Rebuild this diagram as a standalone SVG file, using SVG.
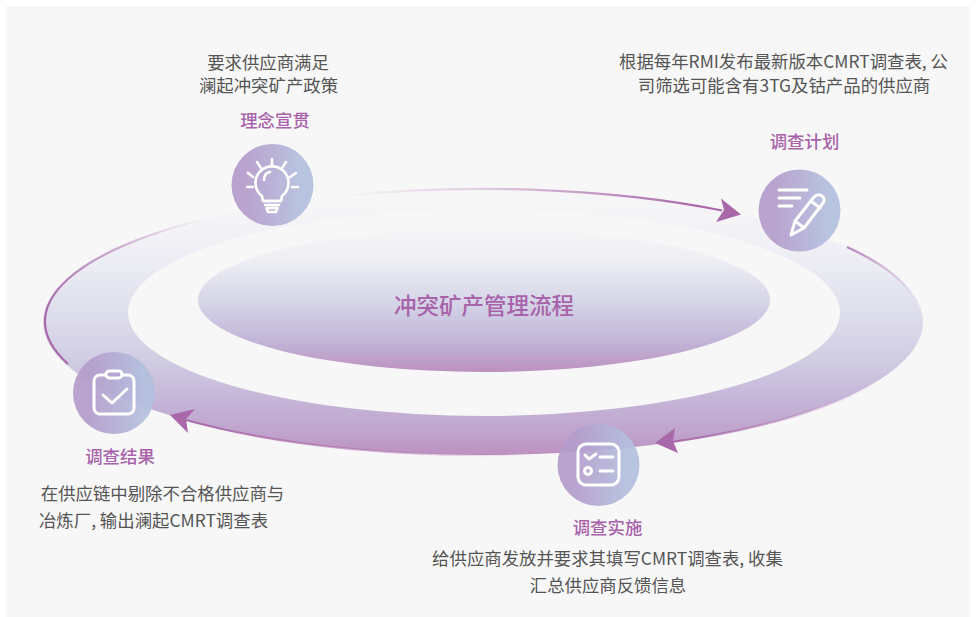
<svg xmlns="http://www.w3.org/2000/svg" width="976" height="617" viewBox="0 0 976 617">
<defs>
<linearGradient id="ring" x1="0" y1="0" x2="0" y2="1"><stop offset="0" stop-color="#f7f7f8"/><stop offset="0.14" stop-color="#f3f3f7"/><stop offset="0.3" stop-color="#ebebf3"/><stop offset="0.45" stop-color="#dfdfed"/><stop offset="0.64" stop-color="#d0cde3"/><stop offset="0.79" stop-color="#c5b5d8"/><stop offset="0.92" stop-color="#bfa3cc"/><stop offset="1" stop-color="#bd90c0"/></linearGradient>
<linearGradient id="core" x1="0" y1="0" x2="0" y2="1"><stop offset="0" stop-color="#f7f7f8"/><stop offset="0.22" stop-color="#eeeef4"/><stop offset="0.5" stop-color="#d6d6e8"/><stop offset="0.78" stop-color="#c2b6d8"/><stop offset="1" stop-color="#bc90c0"/></linearGradient>
<linearGradient id="disc" x1="0" y1="0" x2="1" y2="0"><stop offset="0.2" stop-color="#b49ccb"/><stop offset="0.85" stop-color="#b3bfde"/></linearGradient>
<linearGradient id="g1" gradientUnits="userSpaceOnUse" x1="340" y1="0" x2="700" y2="0"><stop offset="0" stop-color="#a868aa" stop-opacity="0"/><stop offset=".4" stop-color="#a868aa" stop-opacity=".3"/><stop offset="1" stop-color="#a868aa"/></linearGradient>
<linearGradient id="g2" gradientUnits="userSpaceOnUse" x1="847" y1="248" x2="915" y2="300"><stop offset="0" stop-color="#a868aa" stop-opacity=".8"/><stop offset="1" stop-color="#a868aa" stop-opacity="0"/></linearGradient>
<linearGradient id="g3" gradientUnits="userSpaceOnUse" x1="670" y1="0" x2="880" y2="0"><stop offset="0" stop-color="#a868aa"/><stop offset="1" stop-color="#a868aa" stop-opacity="0"/></linearGradient>
<linearGradient id="g4" gradientUnits="userSpaceOnUse" x1="180" y1="0" x2="540" y2="0"><stop offset="0" stop-color="#a868aa"/><stop offset="1" stop-color="#a868aa" stop-opacity="0"/></linearGradient>
<linearGradient id="g5" gradientUnits="userSpaceOnUse" x1="60" y1="330" x2="205" y2="218"><stop offset="0" stop-color="#a868aa"/><stop offset="1" stop-color="#a868aa" stop-opacity="0"/></linearGradient>
</defs>
<style>
text{font-family:"Noto Sans CJK SC","Noto Sans",sans-serif}
.d{font-size:17.4px;fill:#555;text-anchor:middle}
.t{font-size:17.4px;font-weight:500;fill:#a862aa;text-anchor:middle}
.disc{fill:url(#disc);opacity:.92}
.i{fill:none;stroke:#fff;stroke-width:3;stroke-linecap:round;stroke-linejoin:round}
.c{fill:none;stroke-width:2.2}
.h{fill:#a868aa}
</style>
<rect width="976" height="617" fill="#fff"/>
<rect x="6" y="6" width="964" height="611" fill="#f7f7f7"/>
<g id="ring-shape">
<ellipse cx="483" cy="322" rx="440" ry="133" fill="url(#ring)"/>
<ellipse cx="484" cy="312.500" rx="356" ry="103.500" fill="#f7f7f8"/>
</g>
<g id="core-node">
<ellipse cx="484" cy="300" rx="286" ry="72" fill="url(#core)"/>
<text x="484" y="314" style="font-size:22.500px;font-weight:500;fill:#a862aa;text-anchor:middle">冲突矿产管理流程</text>
</g>
<g id="connectors">
<path class="c" stroke="url(#g1)" d="M340 196A440 133 0 0 1 722 210.500"/>
<path class="h" d="M741 214.500L721 198.500L724 210L716 222Z"/>
<path class="c" stroke="url(#g2)" d="M847 247A440 133 0 0 1 915 300"/>
<path class="c" stroke="url(#g3)" d="M880 380A440 133 0 0 1 672 442"/>
<path class="h" d="M655 443L675 428L673 441L678 453Z"/>
<path class="c" stroke="url(#g4)" d="M540 454A440 133 0 0 1 186 420"/>
<path class="h" d="M170 415L195 409L186 419L188 433Z"/>
<path class="c" stroke="url(#g5)" d="M68 364A440 133 0 0 1 240 211"/>
</g>
<g id="node-idea">
<text class="d" x="268" y="68.500">要求供应商满足</text>
<text class="d" x="268.500" y="91.500">澜起冲突矿产政策</text>
<text class="t" x="275" y="127">理念宣贯</text>
<circle class="disc" cx="272.500" cy="185" r="41"/>
<g class="i" style="stroke-width:2.6"><path d="M262 196A16.500 16.500 0 1 1 282 196L281 201H263Z"/><path d="M263 201H281M265 205H279M266.500 208H277.500L276 212H268ZM264 180Q264 173 270 172"/><path d="M272 159V165M257 162L261 168M286 162L282 168M248 173L253 177M296 173L290 177M247 187H253M292 187H298"/></g>
</g>
<g id="node-plan">
<text class="d" x="783.500" y="68">根据每年RMI发布最新版本CMRT调查表, 公</text>
<text class="d" x="784" y="91.500">司筛选可能含有3TG及钴产品的供应商</text>
<text class="t" x="804.500" y="148">调查计划</text>
<circle class="disc" cx="799.500" cy="210.500" r="41"/>
<g class="i"><path d="M779 190H807M779 198H800M779 206H792"/><path d="M791 235L795 221L814 197Q818 193 822 196Q826 199 823 203L804 228ZM795 221L804 228M811 201L820 208"/></g>
</g>
<g id="node-result">
<circle class="disc" cx="114" cy="393" r="41"/>
<g class="i"><rect x="94" y="375" width="40" height="39" rx="6"/><rect x="106" y="371" width="16" height="7" rx="3.500" fill="#b3a5cf"/><path d="M103 395L112 403L127 389"/></g>
<text class="t" x="120" y="463">调查结果</text>
<text class="d" x="162.500" y="500">在供应链中剔除不合格供应商与</text>
<text class="d" x="153.500" y="527">冶炼厂, 输出澜起CMRT调查表</text>
</g>
<g id="node-survey">
<circle class="disc" cx="598.500" cy="465" r="41"/>
<g class="i"><rect x="578" y="444" width="41" height="41" rx="8"/><path d="M585 455L589 459L596 454M600 457H613M600 471H613"/><circle cx="588" cy="471" r="3.500"/></g>
<text class="t" x="607.500" y="534">调查实施</text>
<text class="d" x="607.500" y="565">给供应商发放并要求其填写CMRT调查表, 收集</text>
<text class="d" x="608" y="591.500">汇总供应商反馈信息</text>
</g>
</svg>
